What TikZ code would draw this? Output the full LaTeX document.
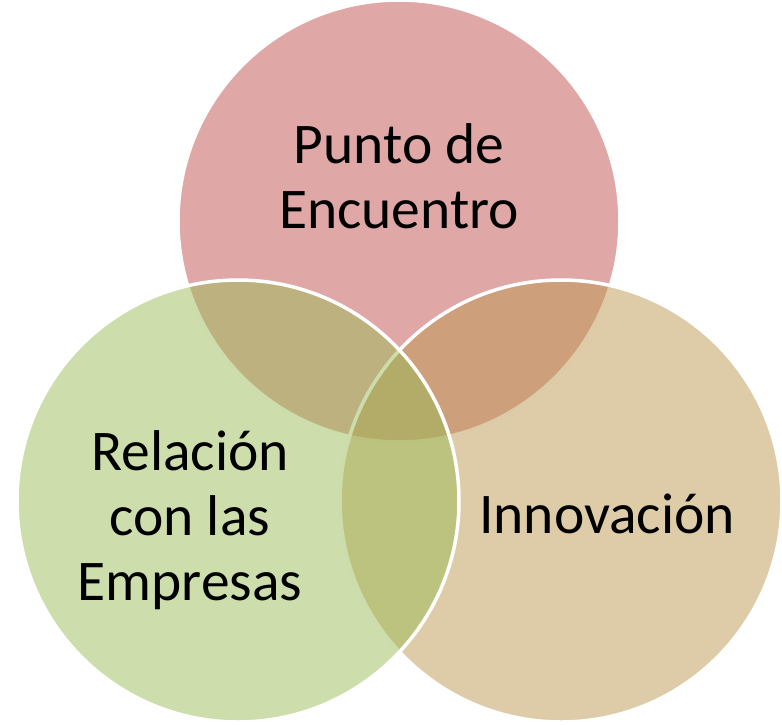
\documentclass[tikz,border=0pt]{standalone}
\usepackage{fontspec}
\setmainfont{Carlito}
\definecolor{cred}{HTML}{C0504D}
\definecolor{cgreen}{HTML}{9BBB59}
\definecolor{ctan}{HTML}{BB994F}
\tikzset{
  venn/.style={circle, draw=white, line width=3.5pt, fill opacity=0.5, inner sep=0pt, minimum size=442pt},
  lbl/.style={font=\fontsize{57.5}{65}\selectfont, align=center, anchor=base, text=black, inner sep=0pt}
}
\begin{document}
\begin{tikzpicture}[x=1pt,y=-1pt]
\useasboundingbox (0,0) rectangle (782,724);
\node[venn, fill=cred] (top) at (399,221) {};
\node[venn, fill=ctan] (right) at (561,501) {};
\node[venn, fill=cgreen] (left) at (238,501) {};
\node[lbl] (ttop) at (399,228) {Punto de\\Encuentro};
\node[lbl] (tleft) at (190,600) {Relación\\con las\\Empresas};
\node[lbl] (tright) at (607,533) {Innovación};
\end{tikzpicture}
\end{document}
